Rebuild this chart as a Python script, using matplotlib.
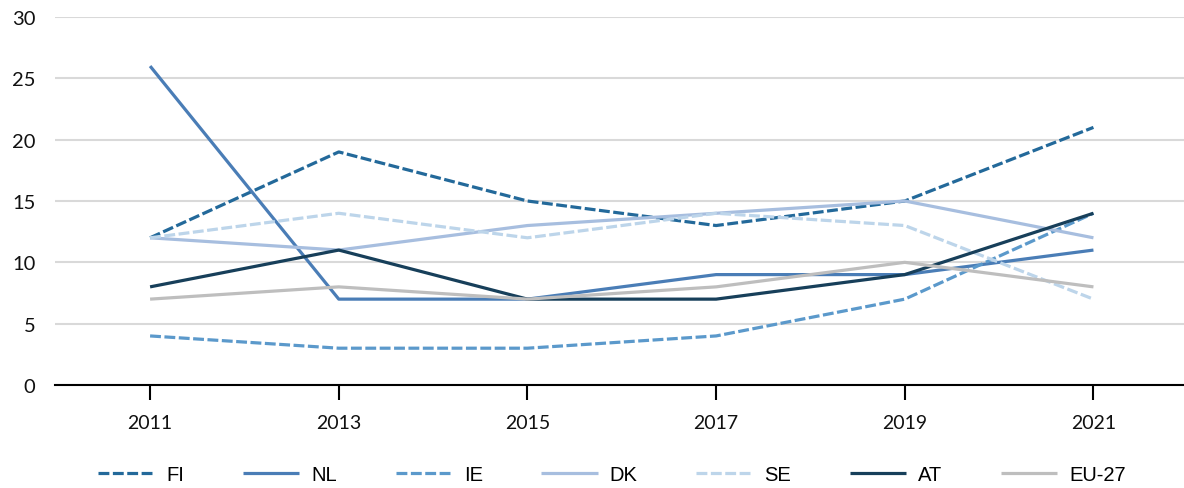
import matplotlib
matplotlib.use("Agg")
import matplotlib.pyplot as plt

years = ["2011", "2013", "2015", "2017", "2019", "2021"]
series_names = ["FI", "NL", "IE", "DK", "SE", "AT", "EU-27"]
fi = [12, 19, 15, 13, 15, 21]
nl = [26, 7, 7, 9, 9, 11]
ie = [4, 3, 3, 4, 7, 14]
dk = [12, 11, 13, 14, 15, 12]
se = [12, 14, 12, 14, 13, 7]
at = [8, 11, 7, 7, 9, 14]
eu27 = [7, 8, 7, 8, 10, 8]

values = [fi, nl, ie, dk, se, at, eu27]
colors = ["#23699A", "#4A7DB6", "#5B99CB", "#A7BEDF", "#BDD5EA", "#173F5A", "#BEBEBE"]
dashed = [True, False, True, False, True, False, False]

fig = plt.figure(figsize=(11.84, 4.89), dpi=100)
ax = fig.add_axes([55 / 1184, 1 - 386 / 489, (1184 - 55) / 1184, (386 - 18) / 489])

x = list(range(len(years)))
handles = []
for name, vals, col, dsh in zip(series_names, values, colors, dashed):
    (ln,) = ax.plot(x, vals, color=col, lw=2.3, label=name,
                    solid_capstyle="butt", dash_capstyle="butt")
    if dsh:
        ln.set_dashes((3.4, 1.1))
    handles.append(ln)

ax.set_ylim(0, 30)
ax.set_xlim(-0.504, 5.48)
ax.set_yticks(range(0, 31, 5))
ax.set_xticks(x)
ax.set_xticklabels(years)
ax.yaxis.grid(True, color="#D9D9D9", lw=1.5)
ax.set_axisbelow(True)
for s in ["top", "right", "left"]:
    ax.spines[s].set_visible(False)
ax.spines["bottom"].set_linewidth(1.5)
ax.spines["bottom"].set_color("black")
ax.tick_params(axis="y", length=0, pad=14, labelsize=14.5, labelcolor="#111111")
ax.tick_params(axis="x", length=11, width=1.5, direction="out", pad=10,
               labelsize=14, labelcolor="#111111")
for lab in ax.get_yticklabels() + ax.get_xticklabels():
    lab.set_fontfamily("Lato")

fig.legend(handles=handles, loc="center", bbox_to_anchor=(0.517, 1 - 476 / 489),
           ncol=7, frameon=False, handlelength=2.8, handletextpad=0.6,
           columnspacing=2.9, prop={"family": "Liberation Sans", "size": 14.5})

fig.savefig("out.png", dpi=100)
